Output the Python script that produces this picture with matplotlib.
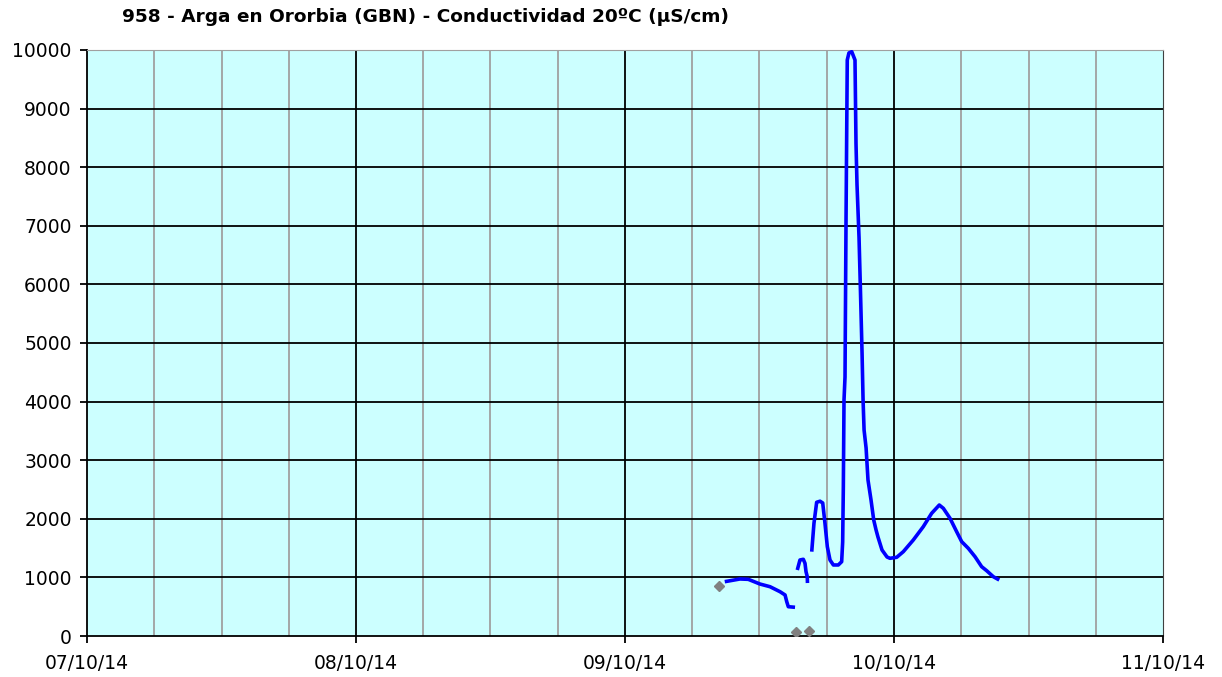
import matplotlib
matplotlib.use("Agg")
import matplotlib.pyplot as plt
import numpy as np

# hours since 07/10/14 00:00
seg1_h = [56.90, 58.26, 59.00, 60.04, 60.94, 61.83, 62.28, 62.43, 62.57, 63.17]
seg1_v = [927, 973, 967, 887, 841, 756, 700, 586, 500, 490]

seg2_h = [63.37, 63.61, 63.91, 64.06, 64.15, 64.26, 64.28]
seg2_v = [1126, 1297, 1309, 1240, 1098, 1013, 904]

seg3_h = [64.66, 64.86, 65.10, 65.40, 65.64, 65.84, 66.05, 66.29, 66.59, 67.03,
          67.33, 67.42, 67.48, 67.54, 67.63, 67.72, 67.83, 67.98, 68.23,
          68.52, 68.61, 68.70, 68.88, 69.01, 69.15, 69.24, 69.33, 69.51, 69.68,
          69.95, 70.19, 70.40, 70.57, 70.93, 71.38, 71.64, 72.24, 72.83, 73.72,
          74.61, 75.36, 76.04, 76.40, 77.00, 77.59, 78.04, 78.63, 79.23, 79.82,
          80.27, 80.86, 81.39]
seg3_v = [1439, 1925, 2282, 2300, 2270, 1925, 1525, 1297, 1212, 1212,
          1268, 1604, 2543, 4027, 4420, 7099, 9829, 9950, 9971,
          9829, 8400, 7700, 6800, 5870, 4829, 4027, 3515, 3208, 2662,
          2321, 1980, 1809, 1689, 1468, 1348, 1326, 1343, 1439, 1638,
          1865, 2094, 2235, 2179, 2008, 1780, 1610, 1496, 1353, 1183,
          1114, 1012, 956]

pts_h = [56.39, 63.28, 64.44]
pts_v = [853, 63, 90]

day_labels = ["07/10/14", "08/10/14", "09/10/14", "10/10/14", "11/10/14"]
title = "958 - Arga en Ororbia (GBN) - Conductividad 20ºC (µS/cm)"

fig = plt.figure(figsize=(12.22, 6.77), dpi=100)
ax = fig.add_axes([87/1222, 1-636/677, (1163-87)/1222, (636-50)/677])
ax.set_facecolor("#CCFFFF")
ax.set_xlim(0, 96)
ax.set_ylim(0, 10000)

# grid
for h in np.arange(6, 96, 6):
    if h % 24 == 0:
        ax.axvline(h, color="black", lw=1.3, zorder=1)
    else:
        ax.axvline(h, color="#A0A0A0", lw=1.3, zorder=1)
for v in range(1000, 10000, 1000):
    ax.axhline(v, color="black", lw=1.3, zorder=1)

for segh, segv in [(seg1_h, seg1_v), (seg2_h, seg2_v), (seg3_h, seg3_v)]:
    ax.plot(segh, segv, color="#0000FF", lw=2.6, zorder=3, solid_capstyle="butt")
ax.plot(pts_h, pts_v, linestyle="none", marker="D", color="#808080", ms=5, zorder=4)

ax.set_xticks([0, 24, 48, 72, 96])
ax.set_xticklabels(day_labels)
ax.set_yticks(range(0, 10001, 1000))
ax.tick_params(axis="both", direction="out", length=5, width=1.3, color="black",
               labelsize=13.5, labelcolor="#000000")
ax.tick_params(axis="x", pad=8)
ax.tick_params(axis="y", pad=6)
ax.spines["left"].set_color("black")
ax.spines["bottom"].set_color("black")
ax.spines["left"].set_linewidth(1.3)
ax.spines["bottom"].set_linewidth(1.3)
ax.spines["top"].set_color("#A0A0A0")
ax.spines["right"].set_color("#404040")

fig.text(122/1222, 1-17/677, title, fontsize=13.3, fontweight="bold", ha="left", va="center")

fig.savefig("out.png", dpi=100)
